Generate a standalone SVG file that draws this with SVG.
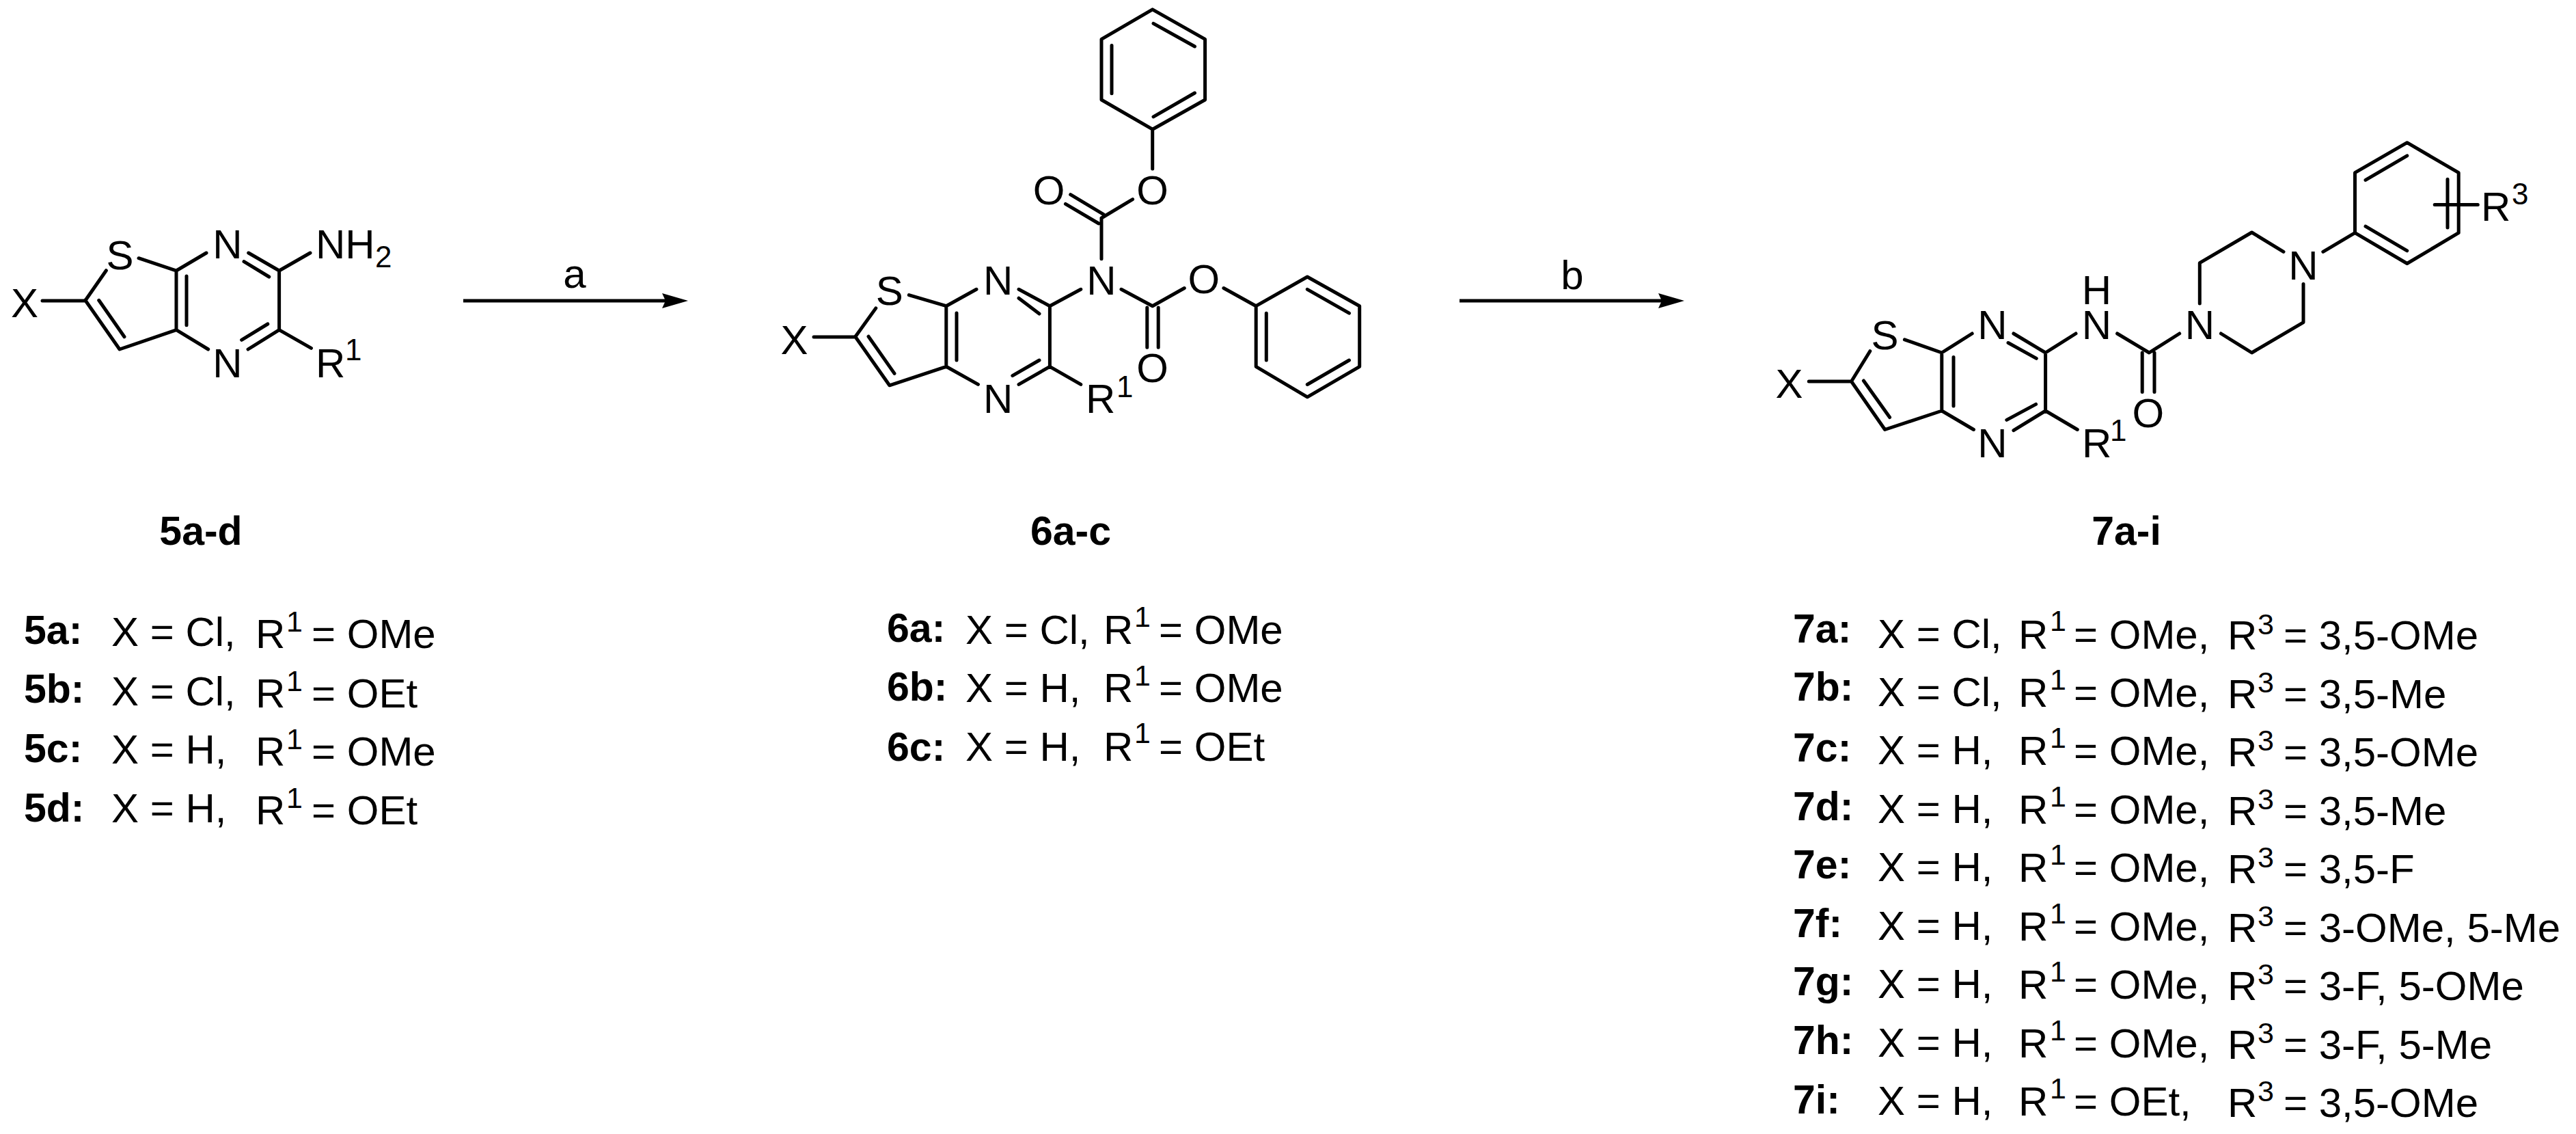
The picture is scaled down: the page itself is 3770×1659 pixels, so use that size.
<svg xmlns="http://www.w3.org/2000/svg" width="3770" height="1659" viewBox="0 0 3770 1659">
<style>
text{font-family:"Liberation Sans",Arial,sans-serif;font-size:60px;fill:#000}
.m{text-anchor:middle}
.s{font-size:44px}
.r{font-size:43px}
.l{font-weight:bold;font-size:59px}
.c{text-anchor:middle;font-weight:bold;font-size:59px}
.b{fill:none;stroke:#000;stroke-width:5;stroke-linecap:round;stroke-linejoin:round}
.a{stroke:#000;stroke-width:5;fill:none;marker-end:url(#h)}
</style>
<defs><marker id="h" viewBox="0 0 38 22" refX="16" refY="11" markerWidth="38" markerHeight="22" markerUnits="userSpaceOnUse" orient="auto"><path d="M0 0L38 11L0 22L5 11Z" fill="#000"/></marker></defs>
<rect width="3770" height="1659" fill="#fff"/>
<g id="connectors">
<line class="a" x1="678" y1="440" x2="985" y2="440"/>
<line class="a" x1="2136" y1="440" x2="2443" y2="440"/>
<text class="m" x="841" y="421">a</text>
<text class="m" x="2301" y="423">b</text>
</g>
<g id="mol5">
<path class="b" d="M62 440H124.6L155.4 395.7M203 377.7L258 396L302 370M363.7 370L408.6 396L454 370M357 382.7L393.8 405M408.6 396V482.7L363 511M391.8 474L353.6 497.3M408.6 482.7L455.5 509.3M304.7 511L258 482.7V396M273 404V475.7M258 482.7L175 511L124.6 439M182 492.7L144.7 439.3"/>
<text class="m" x="36" y="464">X</text><text class="m" x="175.5" y="393.5">S</text><text class="m" x="333" y="377.7">N</text><text class="m" x="333" y="551.7">N</text>
<text x="462" y="377.7">NH</text><text class="s" x="549" y="390.7">2</text><text x="462" y="551.7">R</text><text class="s" x="505" y="527">1</text>
</g>
<g id="mol6">
<path class="b" d="M1686.7 13.8L1763.6 57.4V146L1686.7 189.2L1612 146V57.4ZM1688 34.4L1748.5 68M1627 66.6V136.8M1748.5 136L1688 170.8M1686.7 189.2V247M1612 319L1657.6 291.6M1566.7 284.7L1615 313.6M1559.4 298.4L1608 327M1612 319V378.8M1191 493H1251.5L1281.8 450.9M1330.3 431.6L1384.8 447.7L1429 423.3M1491 423.3L1536.4 447.7L1581.8 423.3M1491 436.2L1521 459M1641 423.3L1686.7 447.7L1733.3 421.5M1790.9 421.5L1838.2 447.7L1913.3 405L1989.7 447.7V536.3L1913.3 580.8L1838.2 536.3V447.7M1913.3 423.3L1974.5 458.2M1974.5 527L1913.3 562.5M1853.3 458.2V527M1678.8 450V508.3M1695.2 450V508.3M1536.4 447.7V536.3L1491 562.4M1521 527L1481.8 549.6M1536.4 536.3L1581.8 562.4M1431.5 562.4L1384.8 536.3V447.7M1400 458V527M1384.8 536.3L1301.8 563.8L1251.5 492.2M1309 546.4L1271 492.2"/>
<text class="m" x="1162.4" y="517.5">X</text><text class="m" x="1301.8" y="446">S</text><text class="m" x="1460.6" y="430.7">N</text><text class="m" x="1612" y="430.7">N</text><text class="m" x="1460.6" y="603.8">N</text>
<text class="m" x="1686.7" y="299">O</text><text class="m" x="1535" y="299">O</text><text class="m" x="1761.8" y="429.3">O</text><text class="m" x="1686.7" y="559">O</text>
<text x="1589" y="603.8">R</text><text class="s" x="1634" y="580.8">1</text>
</g>
<g id="mol7">
<path class="b" d="M2647.3 558H2709.5L2736.8 513.7M2787.4 496.9L2841.8 516L2886.2 488M2946.9 488L2993.6 516L3038 488M2939 501.5L2980.3 524.4M3098.6 488L3145.3 516L3189.7 488M3135.2 516V573.4M3153 516V573.4M3250.4 488L3295.5 516L3371 471.6V415.4M3219.3 444V384.7L3295.5 340L3342 368.3M3399.8 368.3L3446.5 340.7V252.7L3522.8 208.7L3598.2 252.7V340.7L3522.8 385.5L3446.5 340.7M3462 263.4L3522.8 227.8M3582 262.3V333M3522.8 366.8L3462 331.2M3563.2 299.4H3626.3M2993.6 516V601L2946.9 629.7M2979.6 591.4L2936.8 614.4M2993.6 601L3040.3 628.5M2888.5 628.5L2841.8 601V516M2859 522.5V594M2841.8 601L2758.6 628.5L2709.5 558M2765.6 610.5L2727.4 557"/>
<text class="m" x="2618.5" y="581.8">X</text><text class="m" x="2758.6" y="510.5">S</text><text class="m" x="2915.8" y="495.7">N</text><text class="m" x="3068.3" y="495.7">N</text><text class="m" x="3068.3" y="444.8">H</text><text class="m" x="3219.3" y="495.7">N</text><text class="m" x="3371" y="408.5">N</text><text class="m" x="2915.8" y="669">N</text><text class="m" x="3143.8" y="624.5">O</text>
<text x="3047" y="669">R</text><text class="s" x="3088" y="645">1</text><text x="3631" y="322.7">R</text><text class="s" x="3676" y="298.6">3</text>
</g>
<g id="list5">
<text class="c" x="294" y="797">5a-d</text>
<text class="l" x="35" y="942">5a:</text><text x="163" y="945">X = Cl,</text><text x="374" y="948">R</text><text class="r" x="419" y="924">1</text><text x="456" y="948">= OMe</text>
<text class="l" x="35" y="1028">5b:</text><text x="163" y="1032">X = Cl,</text><text x="374" y="1035">R</text><text class="r" x="419" y="1011">1</text><text x="456" y="1035">= OEt</text>
<text class="l" x="35" y="1115">5c:</text><text x="163" y="1117">X = H,</text><text x="374" y="1120">R</text><text class="r" x="419" y="1096">1</text><text x="456" y="1120">= OMe</text>
<text class="l" x="35" y="1202">5d:</text><text x="163" y="1203">X = H,</text><text x="374" y="1206">R</text><text class="r" x="419" y="1182">1</text><text x="456" y="1206">= OEt</text>
</g>
<g id="list6">
<text class="c" x="1567" y="797">6a-c</text>
<text class="l" x="1298" y="939">6a:</text><text x="1413" y="942">X = Cl,</text><text x="1615" y="942">R</text><text class="r" x="1660" y="917">1</text><text x="1696" y="942">= OMe</text>
<text class="l" x="1298" y="1025">6b:</text><text x="1413" y="1027">X = H,</text><text x="1615" y="1027">R</text><text class="r" x="1660" y="1003">1</text><text x="1696" y="1027">= OMe</text>
<text class="l" x="1298" y="1113">6c:</text><text x="1413" y="1113">X = H,</text><text x="1615" y="1113">R</text><text class="r" x="1660" y="1087">1</text><text x="1696" y="1113">= OEt</text>
</g>
<g id="list7">
<text class="c" x="3112" y="797">7a-i</text>
<text class="l" x="2624" y="940">7a:</text><text x="2748" y="948">X = Cl,</text><text x="2954" y="949">R</text><text class="r" x="3000" y="923">1</text><text x="3035" y="949">= OMe,</text><text x="3260" y="950">R</text><text class="r" x="3304" y="928">3</text><text x="3342" y="950">= 3,5-OMe</text>
<text class="l" x="2624" y="1025">7b:</text><text x="2748" y="1033">X = Cl,</text><text x="2954" y="1034">R</text><text class="r" x="3000" y="1009">1</text><text x="3035" y="1034">= OMe,</text><text x="3260" y="1036">R</text><text class="r" x="3304" y="1013">3</text><text x="3342" y="1036">= 3,5-Me</text>
<text class="l" x="2624" y="1114">7c:</text><text x="2748" y="1118">X = H,</text><text x="2954" y="1119">R</text><text class="r" x="3000" y="1094">1</text><text x="3035" y="1119">= OMe,</text><text x="3260" y="1121">R</text><text class="r" x="3304" y="1098">3</text><text x="3342" y="1121">= 3,5-OMe</text>
<text class="l" x="2624" y="1200">7d:</text><text x="2748" y="1204">X = H,</text><text x="2954" y="1205">R</text><text class="r" x="3000" y="1180">1</text><text x="3035" y="1205">= OMe,</text><text x="3260" y="1207">R</text><text class="r" x="3304" y="1184">3</text><text x="3342" y="1207">= 3,5-Me</text>
<text class="l" x="2624" y="1285">7e:</text><text x="2748" y="1289">X = H,</text><text x="2954" y="1290">R</text><text class="r" x="3000" y="1265">1</text><text x="3035" y="1290">= OMe,</text><text x="3260" y="1292">R</text><text class="r" x="3304" y="1269">3</text><text x="3342" y="1292">= 3,5-F</text>
<text class="l" x="2624" y="1371">7f:</text><text x="2748" y="1375">X = H,</text><text x="2954" y="1376">R</text><text class="r" x="3000" y="1351">1</text><text x="3035" y="1376">= OMe,</text><text x="3260" y="1378">R</text><text class="r" x="3304" y="1355">3</text><text x="3342" y="1378">= 3-OMe, 5-Me</text>
<text class="l" x="2624" y="1456">7g:</text><text x="2748" y="1460">X = H,</text><text x="2954" y="1461">R</text><text class="r" x="3000" y="1436">1</text><text x="3035" y="1461">= OMe,</text><text x="3260" y="1463">R</text><text class="r" x="3304" y="1440">3</text><text x="3342" y="1463">= 3-F, 5-OMe</text>
<text class="l" x="2624" y="1542">7h:</text><text x="2748" y="1546">X = H,</text><text x="2954" y="1547">R</text><text class="r" x="3000" y="1522">1</text><text x="3035" y="1547">= OMe,</text><text x="3260" y="1549">R</text><text class="r" x="3304" y="1526">3</text><text x="3342" y="1549">= 3-F, 5-Me</text>
<text class="l" x="2624" y="1629">7i:</text><text x="2748" y="1631">X = H,</text><text x="2954" y="1632">R</text><text class="r" x="3000" y="1607">1</text><text x="3035" y="1632">= OEt,</text><text x="3260" y="1634">R</text><text class="r" x="3304" y="1611">3</text><text x="3342" y="1634">= 3,5-OMe</text>
</g>
</svg>
